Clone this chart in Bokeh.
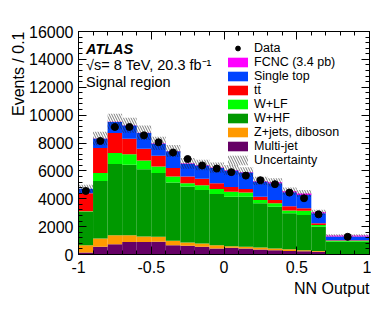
import numpy as np
from bokeh.plotting import figure
from bokeh.models import (FixedTicker, LinearAxis, Range1d, Label, Legend, LegendItem,
                          CustomJSTickFormatter, ColumnDataSource, Title)
from bokeh.embed import file_html
from bokeh.resources import INLINE

# ---------------- data (events per 0.1) ----------------
bin_left  = [-1.0, -0.9, -0.8, -0.7, -0.6, -0.5, -0.4, -0.3, -0.2, -0.1, 0.0, 0.1, 0.2, 0.3, 0.4, 0.5, 0.6, 0.7]
bin_right = [-0.9, -0.8, -0.7, -0.6, -0.5, -0.4, -0.3, -0.2, -0.1, 0.0, 0.1, 0.2, 0.3, 0.4, 0.5, 0.6, 0.7, 1.0]

multijet   = [150, 550, 740, 890, 890, 910, 670, 620, 550, 430, 480, 430, 360, 310, 260, 240, 190, 20]
zjets_vv   = [520, 600, 650, 500, 410, 360, 310, 245, 240, 240, 120, 120, 140, 120, 120, 70, 70, 20]
w_hf       = [2400, 4130, 5100, 5050, 4825, 4570, 4180, 4005, 3840, 3675, 3550, 3600, 3175, 3000, 2575, 2520, 1730, 870]
w_lf       = [30, 560, 790, 760, 625, 475, 430, 245, 340, 355, 360, 290, 235, 245, 200, 310, 120, 70]
ttbar      = [1300, 1800, 1440, 1110, 840, 770, 610, 475, 460, 415, 330, 260, 240, 235, 300, 175, 125, 50]
single_top = [310, 660, 790, 940, 1130, 865, 1200, 920, 960, 1085, 1190, 1180, 1080, 1205, 1015, 960, 720, 270]
fcnc       = [10, 20, 20, 20, 20, 25, 25, 30, 30, 35, 40, 45, 50, 60, 70, 95, 70, 70]
uncert     = [290, 480, 560, 540, 520, 470, 430, 390, 380, 370, 350, 340, 300, 300, 260, 250, 180, 80]
data_counts = [4560, 8145, 9150, 9150, 8550, 8050, 7320, 6850, 6390, 6170, 5910, 5660, 5330, 5045, 4440, 4035, 2880, 1270]

x_ticks = [-1, -0.5, 0, 0.5, 1]
x_minor = [round(v, 1) for v in np.arange(-1.0, 1.001, 0.1)]
y_ticks = [0, 2000, 4000, 6000, 8000, 10000, 12000, 14000, 16000]
y_minor = list(range(0, 16001, 400))

names  = ["Multi-jet", "Z+jets, diboson", "W+HF", "W+LF", "t\u0074\u0304", "Single top", "FCNC (3.4 pb)"]
colors = ["#660066", "#FF9900", "#009900", "#00FF00", "#FF0000", "#0044FF", "#FF00FF"]
series = [multijet, zjets_vv, w_hf, w_lf, ttbar, single_top, fcnc]

FONT = "Liberation Sans"

p = figure(width=371, height=310, x_range=Range1d(-1, 1), y_range=Range1d(0, 16000),
           output_backend="svg", toolbar_location=None,
           min_border_left=78, min_border_right=2, min_border_top=31, min_border_bottom=56)
p.grid.visible = False
p.outline_line_color = "black"
p.outline_line_width = 1
p.background_fill_color = "white"

left = np.array(bin_left)
right = np.array(bin_right)
bottom = np.zeros(len(left))
renderers = {}
for name, col, vals in zip(names, colors, series):
    top = bottom + np.array(vals)
    src = ColumnDataSource(dict(left=left, right=right, bottom=bottom.copy(), top=top))
    r = p.quad(left="left", right="right", bottom="bottom", top="top", source=src,
               fill_color=col, line_color=None)
    renderers[name] = r
    bottom = top

total = bottom
unc_src = ColumnDataSource(dict(left=left, right=right,
                                bottom=total - np.array(uncert), top=total + np.array(uncert)))
r_unc = p.quad(left="left", right="right", bottom="bottom", top="top", source=unc_src,
               fill_alpha=0, line_color=None, hatch_pattern="\\", hatch_color="#222222",
               hatch_scale=5, hatch_weight=0.7, hatch_alpha=0.85)

centers = (left + right) / 2
r_data = p.scatter(centers, data_counts, size=7, color="black", marker="circle")

# axes
def style_axis(ax, ticker, labels=True):
    ax.ticker = ticker
    ax.axis_line_color = "black"
    ax.major_tick_line_color = "black"
    ax.minor_tick_line_color = "black"
    ax.major_tick_in = 8
    ax.major_tick_out = 0
    ax.minor_tick_in = 4
    ax.minor_tick_out = 0
    ax.major_label_text_font = FONT
    ax.major_label_text_color = "black"
    ax.major_label_text_font_size = "16px"
    if not labels:
        ax.formatter = CustomJSTickFormatter(code="return ''")
        ax.major_label_text_font_size = "0px"
        ax.major_label_standoff = 0

style_axis(p.xaxis[0], FixedTicker(ticks=x_ticks, minor_ticks=x_minor))
p.xaxis[0].formatter = CustomJSTickFormatter(code="return String(tick)")
p.xaxis[0].major_label_standoff = 6
style_axis(p.yaxis[0], FixedTicker(ticks=y_ticks, minor_ticks=y_minor))
p.yaxis[0].major_label_standoff = 5

top_ax = LinearAxis()
style_axis(top_ax, FixedTicker(ticks=x_ticks, minor_ticks=x_minor), labels=False)
p.add_layout(top_ax, "above")
right_ax = LinearAxis()
style_axis(right_ax, FixedTicker(ticks=y_ticks, minor_ticks=y_minor), labels=False)
p.add_layout(right_ax, "right")

# axis titles
p.add_layout(Title(text="NN Output", align="right", text_font=FONT, text_font_size="16px",
                   text_font_style="normal", text_color="black", standoff=4, offset=0), "below")
p.add_layout(Title(text="Events / 0.1", align="right", text_font=FONT, text_font_size="16px",
                   text_font_style="normal", text_color="black", standoff=0, offset=0), "left")

# ATLAS labels
p.add_layout(Label(x=-1, y=16000, text="ATLAS", x_offset=7.5, y_offset=-17,
                   text_font=FONT, text_font_style="bold italic", text_font_size="14.5px",
                   text_baseline="alphabetic", text_color="black"))
p.add_layout(Label(x=-1, y=16000, text="\u221As= 8 TeV,  20.3 fb\u207B\u00B9", x_offset=7.5, y_offset=-33,
                   text_font=FONT, text_font_size="14.5px", text_baseline="alphabetic", text_color="black"))
p.add_layout(Label(x=-1, y=16000, text="Signal region", x_offset=7.5, y_offset=-50,
                   text_font=FONT, text_font_size="14.5px", text_baseline="alphabetic", text_color="black"))

# legend
items = [LegendItem(label="Data", renderers=[r_data])]
for name in reversed(names):
    items.append(LegendItem(label=name, renderers=[renderers[name]]))
items.append(LegendItem(label="Uncertainty", renderers=[r_unc]))
legend = Legend(items=items, location=(147, 87), padding=0, margin=0, spacing=0,
                glyph_width=25, glyph_height=12, label_height=12, label_standoff=4,
                label_text_font=FONT, label_text_font_size="12.5px", label_text_color="black",
                border_line_alpha=0, background_fill_alpha=0)
p.add_layout(legend)

open("out.html", "w").write(file_html(p, INLINE))
